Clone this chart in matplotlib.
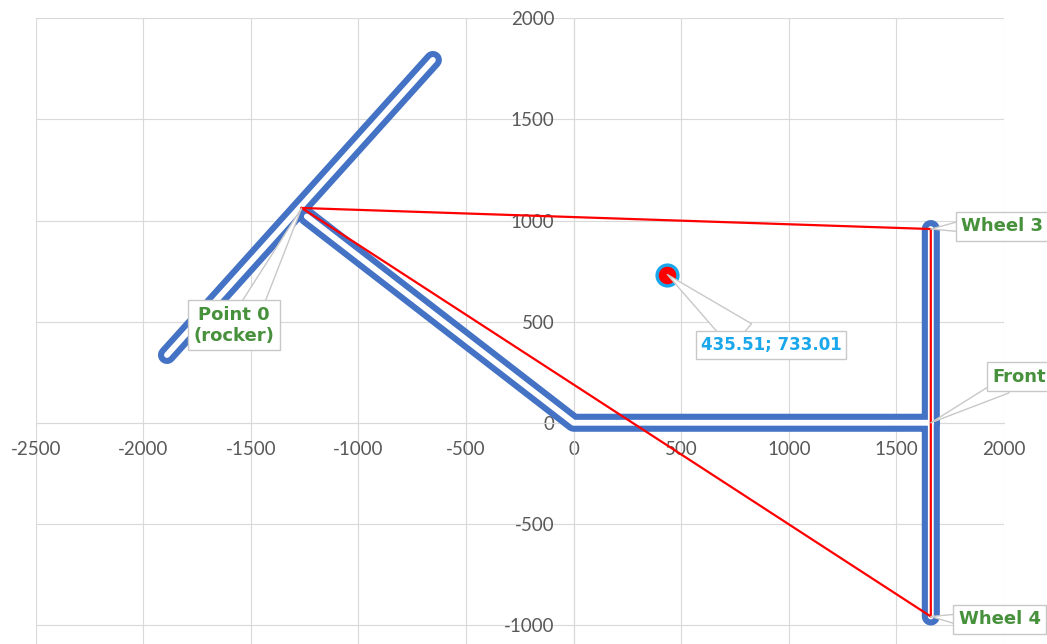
import numpy as np
import matplotlib.pyplot as plt

plt.rcParams['axes.unicode_minus'] = False

# rocker / bogie outline (NaN breaks the polyline into pieces)
rocker_x = [-1890, -654, np.nan, -1240, 0, 1660, np.nan, 1660, 1660]
rocker_y = [335, 1794, np.nan, 1020, 0, 0, np.nan, 958, -958]

# support triangle: Point 0 -> Wheel 3 -> Wheel 4 -> Point 0
tri_x = [-1264, 1660, 1660, -1264]
tri_y = [1062, 958, -958, 1062]

centroid = (435.51, 733.01)

x_ticks = list(range(-2500, 2001, 500))
y_ticks = list(range(-1000, 2001, 500))

green = '#47913c'
blue = '#4472c4'
grid_c = '#d9d9d9'

fig = plt.figure(figsize=(10.47, 6.44), dpi=100)
ax = fig.add_axes([0.0341, -0.1275, 0.9248, 1.0991])
ax.set_xlim(-2500, 2000)
ax.set_ylim(-1500, 2000)
ax.set_xticks(x_ticks)
ax.set_yticks(y_ticks)
ax.set_yticks([-1500], minor=True)
ax.grid(True, which='both', color=grid_c, lw=0.8)
ax.set_axisbelow(True)

for side in ['top', 'right']:
    ax.spines[side].set_visible(False)
for side in ['left', 'bottom']:
    ax.spines[side].set_position(('data', 0))
    ax.spines[side].set_color(grid_c)
    ax.spines[side].set_linewidth(0.8)

ax.tick_params(axis='both', which='both', length=0, labelcolor='#595959')
ax.tick_params(axis='x', pad=13)
ax.tick_params(axis='y', pad=14)
for lab in ax.get_xticklabels() + ax.get_yticklabels():
    lab.set_family(['Lato', 'DejaVu Sans'])
    lab.set_fontsize(13.5)

# double-line look: thick blue with thin white core
ax.plot(rocker_x, rocker_y, color=blue, lw=13, solid_capstyle='round',
        solid_joinstyle='round', zorder=3)
ax.plot(rocker_x, rocker_y, color='white', lw=4.2, solid_capstyle='round',
        solid_joinstyle='round', zorder=3.1)
ax.plot(tri_x, tri_y, color='red', lw=1.6, zorder=3.2)
ax.plot(*centroid, 'o', ms=15, mfc='red', mec='#1aa7ec', mew=2.4, zorder=3.3)

box = dict(boxstyle='square,pad=0.3', fc='white', ec='#c8c8c8', lw=1)


def callout(text, xy, xytext, relpos, tw, color=green, size=13, ha='center'):
    ax.annotate(text, xy=xy, xytext=xytext, textcoords='data',
                ha=ha, va='center', ma='center', color=color, fontsize=size,
                fontweight='bold', family='DejaVu Sans', bbox=box, zorder=5,
                arrowprops=dict(arrowstyle=f'wedge,tail_width={tw},shrink_factor=0.5',
                                fc='white', ec='#c8c8c8', lw=1, patchA=None,
                                shrinkA=0, shrinkB=0, relpos=relpos))


callout('Point 0\n(rocker)', (tri_x[0], tri_y[0]), (-1578, 482), (0.72, 1.0), 1.2)
callout('Wheel 3', (tri_x[1], tri_y[1]), (1800, 971), (0.0, 0.5), 0.6, ha='left')
callout('Wheel 4', (tri_x[2], tri_y[2]), (1790, -972), (0.0, 0.5), 0.6, ha='left')
callout('Front', (1660, 0), (1944, 228), (0.25, 0.0), 0.9, ha='left')
callout('435.51; 733.01', centroid, (917, 385), (0.29, 1.0), 1.9,
        color='#1aa7ec', size=12)

fig.savefig('out.png', dpi=100)
